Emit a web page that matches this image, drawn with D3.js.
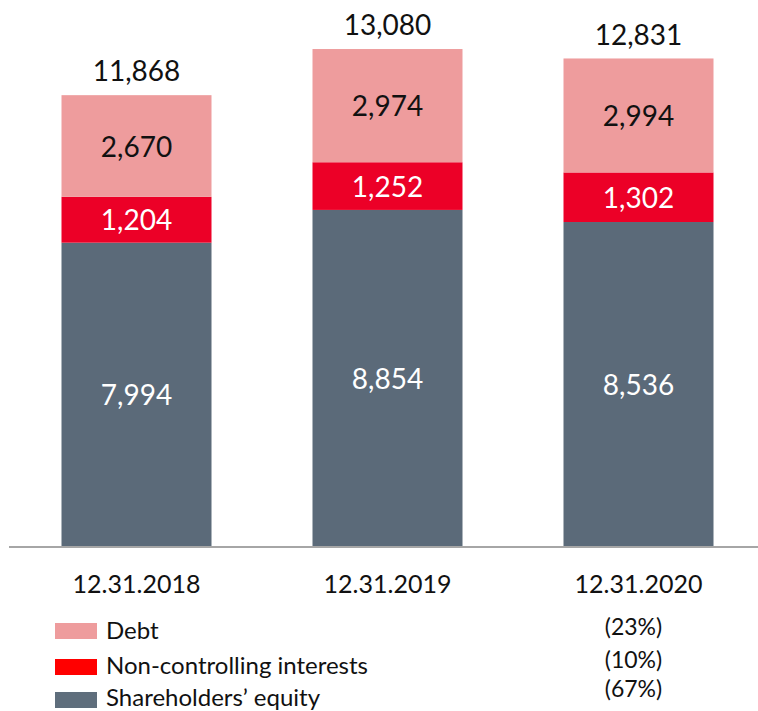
<!DOCTYPE html>
<html>
<head>
<meta charset="utf-8">
<script src="https://cdn.jsdelivr.net/npm/d3@7"></script>
<style>
  html, body { margin: 0; padding: 0; background: #ffffff; }
  svg { display: block; font-family: Lato, "Open Sans", sans-serif; }
</style>
</head>
<body>
<svg id="chart" width="758" height="711"></svg>
<script>
// Capital structure at year end (millions)
const dates = ["12.31.2018", "12.31.2019", "12.31.2020"];
const equity = [7994, 8854, 8536];
const nonControlling = [1204, 1252, 1302];
const debt = [2670, 2974, 2994];
const totals = [11868, 13080, 12831];

const seriesKeys = ["equity", "nci", "debt"];
const seriesNames = ["Shareholders\u2019 equity", "Non-controlling interests", "Debt"];
const barColors = { equity: "#5b6a79", nci: "#ec0027", debt: "#ee9c9d" };
const legendColors = { equity: "#5f6e7c", nci: "#ff0000", debt: "#ee9c9d" };
const labelColors = { equity: "#ffffff", nci: "#ffffff", debt: "#111111" };

const rows = dates.map((d, i) => ({
  date: d, equity: equity[i], nci: nonControlling[i], debt: debt[i], total: totals[i]
}));

const svg = d3.select("#chart");
const fmt = d3.format(",");

const x = d3.scaleBand()
  .domain(dates)
  .range([11.3, 763.7])
  .paddingInner(0.4024)
  .paddingOuter(0.2);

const y = d3.scaleLinear()
  .domain([0, 14000])
  .range([547, 14]);

const stacked = d3.stack().keys(seriesKeys)(rows);

// stacked segments
const layers = svg.append("g").selectAll("g")
  .data(stacked)
  .join("g")
  .attr("fill", s => barColors[s.key]);

layers.selectAll("rect")
  .data(s => s)
  .join("rect")
  .attr("x", d => x(d.data.date))
  .attr("width", x.bandwidth())
  .attr("y", d => y(d[1]))
  .attr("height", d => y(d[0]) - y(d[1]));

// value labels inside each segment
const labels = svg.append("g").attr("text-anchor", "middle").attr("font-size", 28);
stacked.forEach(s => {
  labels.selectAll(null)
    .data(s)
    .join("text")
    .attr("x", d => x(d.data.date) + x.bandwidth() / 2)
    .attr("y", d => (y(d[0]) + y(d[1])) / 2)
    .attr("dy", "0.38em")
    .attr("fill", labelColors[s.key])
    .text(d => fmt(d[1] - d[0]));
});

// totals above bars
svg.append("g").attr("text-anchor", "middle").attr("font-size", 28).attr("fill", "#111111")
  .selectAll("text")
  .data(rows)
  .join("text")
  .attr("x", d => x(d.date) + x.bandwidth() / 2)
  .attr("y", d => y(d.total) - 14)
  .text(d => fmt(d.total));

// baseline axis
const axis = svg.append("g")
  .attr("transform", `translate(0,${y(0)})`)
  .call(d3.axisBottom(x).tickSize(0).tickPadding(28));
axis.select(".domain")
  .attr("d", "M9,0H758")
  .attr("stroke", "#a6a6a6")
  .attr("stroke-width", 2);
axis.selectAll(".tick text")
  .attr("font-family", "Lato, 'Open Sans', sans-serif")
  .attr("font-size", 25)
  .attr("fill", "#111111");

// legend
const legendOrder = ["debt", "nci", "equity"];
const legendY = [631, 666, 698];
const legend = svg.append("g");
legendOrder.forEach((k, i) => {
  legend.append("rect")
    .attr("x", 55).attr("y", [623, 659, 692][i])
    .attr("width", 42).attr("height", 16)
    .attr("fill", legendColors[k]);
  legend.append("text")
    .attr("x", 106).attr("y", legendY[i])
    .attr("dy", "0.35em")
    .attr("font-size", 24)
    .attr("fill", "#111111")
    .text(seriesNames[seriesKeys.indexOf(k)]);
});

// share of latest total
const latest = rows[rows.length - 1];
const pctY = [627, 660, 689];
svg.append("g").attr("text-anchor", "middle").attr("font-size", 23).attr("fill", "#111111")
  .selectAll("text")
  .data(legendOrder)
  .join("text")
  .attr("x", x(latest.date) + x.bandwidth() / 2 - 5)
  .attr("y", (d, i) => pctY[i])
  .attr("dy", "0.35em")
  .text(k => "(" + Math.round(latest[k] / latest.total * 100) + "%)");
</script>
</body>
</html>
